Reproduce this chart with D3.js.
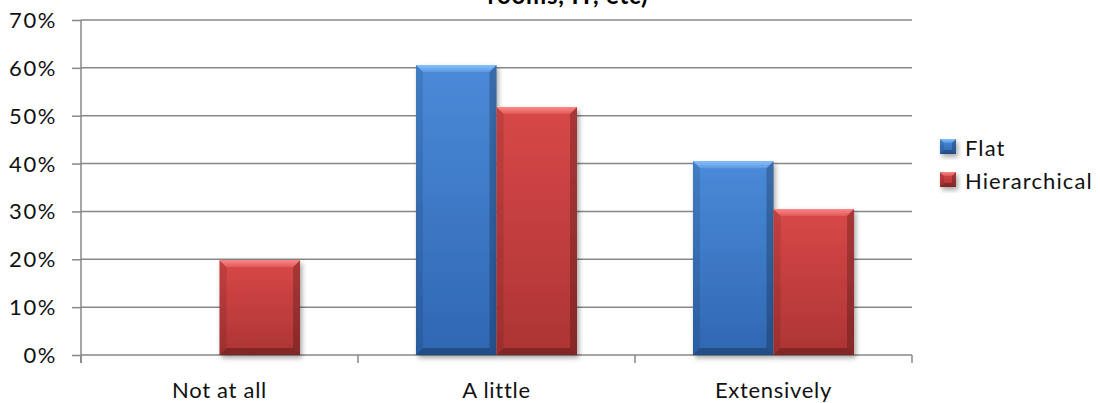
<!DOCTYPE html>
<html>
<head>
<meta charset="utf-8">
<script src="https://cdn.jsdelivr.net/npm/d3@7"></script>
<style>
  html, body { margin: 0; padding: 0; background: #fff; }
  svg { display: block; font-family: Lato, "Open Sans", sans-serif; }
</style>
</head>
<body>
<svg id="chart" width="1100" height="403"></svg>
<script>
// Survey answers, share of respondents per organisation type
const categories = ["Not at all", "A little", "Extensively"];
const seriesNames = ["Flat", "Hierarchical"];
const flatValues = [0, 0.606, 0.405];
const hierarchicalValues = [0.198, 0.518, 0.305];
const yTicks = [0, 0.1, 0.2, 0.3, 0.4, 0.5, 0.6, 0.7];
const titleText = "rooms, IT, etc)";

const seriesValues = [flatValues, hierarchicalValues];
const palette = {
  Flat:         { top: "#4a8ad8", bottom: "#3067b2", light: "#8cc4ff" },
  Hierarchical: { top: "#d84848", bottom: "#ad3434", light: "#ff8a8a" }
};

const svg = d3.select("#chart");
const plot = { left: 81, right: 912, top: 20, bottom: 355 };
const gridColor = "#878787";
const textColor = "#111";

const x0 = d3.scaleBand().domain(categories).range([plot.left, plot.right]).padding(0);
const x1 = d3.scaleBand().domain(seriesNames).range([0, x0.bandwidth()])
  .paddingInner(0).paddingOuter(0.72);
const y = d3.scaleLinear().domain([0, 0.7]).range([plot.bottom, plot.top]);

// gradients and shadow filter
const defs = svg.append("defs");
seriesNames.forEach(name => {
  const g = defs.append("linearGradient").attr("id", "grad-" + name)
    .attr("x1", 0).attr("y1", 0).attr("x2", 0).attr("y2", 1);
  g.append("stop").attr("offset", "0%").attr("stop-color", palette[name].top);
  g.append("stop").attr("offset", "100%").attr("stop-color", palette[name].bottom);
  const t = defs.append("linearGradient").attr("id", "hl-" + name)
    .attr("x1", 0).attr("y1", 0).attr("x2", 0).attr("y2", 1);
  t.append("stop").attr("offset", "0%").attr("stop-color", palette[name].light).attr("stop-opacity", 0.95);
  t.append("stop").attr("offset", "100%").attr("stop-color", palette[name].light).attr("stop-opacity", 0.25);
});
const shadow = defs.append("filter").attr("id", "shadow")
  .attr("x", "-20%").attr("y", "-20%").attr("width", "140%").attr("height", "140%");
shadow.append("feGaussianBlur").attr("stdDeviation", 2.5);
const soft = defs.append("filter").attr("id", "soft");
soft.append("feGaussianBlur").attr("stdDeviation", 0.6);

// horizontal gridlines
svg.append("g").selectAll("line").data(yTicks).join("line")
  .attr("x1", plot.left).attr("x2", plot.right)
  .attr("y1", d => y(d)).attr("y2", d => y(d))
  .attr("stroke", gridColor).attr("stroke-width", 1.5);

// value axis
const yAxis = svg.append("g").attr("transform", `translate(${plot.left},0)`)
  .call(d3.axisLeft(y).tickValues(yTicks).tickFormat(d3.format(".0%")).tickSize(9).tickPadding(15));
yAxis.select(".domain").remove();
yAxis.selectAll(".tick line").attr("stroke", gridColor).attr("stroke-width", 1.5);
yAxis.selectAll(".tick text").attr("font-size", 22).attr("fill", textColor)
  .attr("letter-spacing", 1.6)
  .attr("font-family", "Lato, sans-serif").attr("dy", "0.34em");
svg.append("line").attr("x1", plot.left).attr("x2", plot.left)
  .attr("y1", plot.top).attr("y2", plot.bottom + 8)
  .attr("stroke", gridColor).attr("stroke-width", 1.5);

// category axis
const boundaries = categories.map(c => x0(c)).concat([plot.right]);
svg.append("g").selectAll("line").data(boundaries).join("line")
  .attr("x1", d => d).attr("x2", d => d)
  .attr("y1", plot.bottom).attr("y2", plot.bottom + 8)
  .attr("stroke", gridColor).attr("stroke-width", 1.5);
svg.append("g").selectAll("text").data(categories).join("text")
  .attr("x", d => x0(d) + x0.bandwidth() / 2)
  .attr("y", 398)
  .attr("text-anchor", "middle")
  .attr("font-size", 22).attr("letter-spacing", 0.7).attr("fill", textColor)
  .text(d => d);

// bevelled bar drawing
function bevelBar(g, name, bx, by, bw, bh, b) {
  g.append("rect").attr("x", bx + 2).attr("y", by + 3).attr("width", bw).attr("height", bh)
    .attr("fill", "rgba(0,0,0,0.35)").attr("filter", "url(#shadow)");
  const inner = g.append("g").attr("filter", "url(#soft)");
  inner.append("rect").attr("x", bx).attr("y", by).attr("width", bw).attr("height", bh)
    .attr("fill", `url(#grad-${name})`);
  const pts = a => a.map(p => p.join(",")).join(" ");
  inner.append("polygon")
    .attr("points", pts([[bx, by], [bx + b, by + b], [bx + b, by + bh - b], [bx, by + bh]]))
    .attr("fill", "rgba(0,0,0,0.10)");
  inner.append("polygon")
    .attr("points", pts([[bx + bw, by], [bx + bw - b, by + b], [bx + bw - b, by + bh - b], [bx + bw, by + bh]]))
    .attr("fill", "rgba(0,0,0,0.22)");
  inner.append("polygon")
    .attr("points", pts([[bx, by + bh], [bx + b, by + bh - b], [bx + bw - b, by + bh - b], [bx + bw, by + bh]]))
    .attr("fill", "rgba(0,0,0,0.25)");
  inner.append("polygon")
    .attr("points", pts([[bx, by], [bx + bw, by], [bx + bw - b, by + b], [bx + b, by + b]]))
    .attr("fill", `url(#hl-${name})`);
}

// bars
const barsG = svg.append("g");
categories.forEach((cat, ci) => {
  seriesNames.forEach((name, si) => {
    const v = seriesValues[si][ci];
    if (v <= 0) return;
    const bx = x0(cat) + x1(name);
    const by = y(v);
    bevelBar(barsG, name, bx, by, x1.bandwidth(), y(0) - by, 7);
  });
});

// legend
const legend = svg.append("g");
seriesNames.forEach((name, i) => {
  const ly = 139 + i * 33;
  bevelBar(legend, name, 940, ly, 16, 15, 4);
  legend.append("text").attr("x", 965).attr("y", ly + 17)
    .attr("font-size", 22).attr("letter-spacing", 1.1).attr("fill", textColor).text(name);
});

// title (only its last line falls inside the frame)
svg.append("text").attr("x", 568).attr("y", 4)
  .attr("text-anchor", "middle").attr("font-weight", "bold")
  .attr("font-size", 24).attr("letter-spacing", 0.8).attr("fill", "#000").text(titleText);
</script>
</body>
</html>
